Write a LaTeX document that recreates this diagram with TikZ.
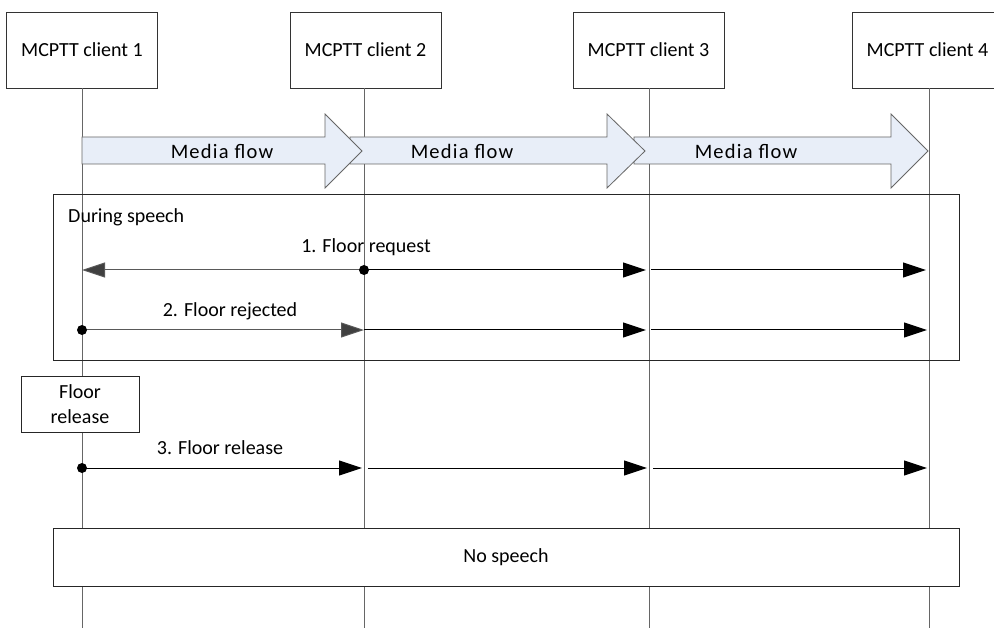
\documentclass[tikz,border=0pt]{standalone}
\usepackage{fontspec}
\setmainfont{Carlito}
\usetikzlibrary{arrows.meta}
\definecolor{flowfill}{HTML}{E8EEF8}
\tikzset{
  client/.style={draw=black!80, line width=0.8pt, fill=white, minimum width=151pt, minimum height=76pt, inner sep=0pt, font=\fontsize{20}{24}\selectfont},
  life/.style={draw=black!60, line width=1pt},
  mflow/.style={draw=black!60, fill=flowfill, line width=0.8pt},
  mflowlbl/.style={font=\fontsize{20.5}{24}\selectfont\addfontfeature{LetterSpace=6}, inner sep=0pt},
  msg/.style={draw=black, line width=1pt, -{Triangle[length=23pt,width=15pt]}},
  msggray/.style={draw=black!65, line width=1pt, -{Triangle[length=23pt,width=15pt,fill=black!75]}},
  dot/.style={circle, fill=black, inner sep=0pt, minimum size=10pt},
  lbl/.style={font=\fontsize{20}{24}\selectfont, inner sep=0pt},
  frame/.style={draw=black!85, line width=0.8pt},
  note/.style={draw=black!85, line width=0.8pt, fill=white, inner sep=0pt, align=center, font=\fontsize{20}{25}\selectfont}
}
\begin{document}
\begin{tikzpicture}[x=1pt,y=-1pt]
\clip (0,0) rectangle (994,628);
\fill[white] (0,0) rectangle (994,628);
% clients
\node[client] (c1) at (82,50) {MCPTT client 1};
\node[client] (c2) at (365.5,50) {MCPTT client 2};
\node[client] (c3) at (648.5,50) {MCPTT client 3};
\node[client] (c4) at (927.5,50) {MCPTT client 4};
\coordinate (b1) at (82,628);
\coordinate (b2) at (364,628);
\coordinate (b3) at (649,628);
\coordinate (b4) at (929,628);
\draw[life] (c1.south -| b1) -- (b1);
\draw[life] (c2.south -| b2) -- (b2);
\draw[life] (c3.south -| b3) -- (b3);
\draw[life] (c4.south -| b4) -- (b4);
% media flow arrows (drawn last-first so earlier ones are on top)
\draw[mflow] (634,137) -- (891,137) -- (891,114) -- (928,151) -- (891,188) -- (891,164) -- (634,164) -- cycle;
\draw[mflow] (350,137) -- (607,137) -- (607,114) -- (645,151) -- (607,188) -- (607,164) -- (350,164) -- cycle;
\draw[mflow] (82,137) -- (325,137) -- (325,114) -- (362,151) -- (325,188) -- (325,164) -- (82,164) -- cycle;
\node[mflowlbl] (mf1) at (222,151) {Media flow};
\node[mflowlbl] (mf2) at (462,151) {Media flow};
\node[mflowlbl] (mf3) at (746,151) {Media flow};
% during speech frame
\draw[frame] (53,194) rectangle (959,360);
\node[lbl, anchor=west] (ds) at (68,217) {During speech};
% message 1
\coordinate (m1a) at (82,270);
\coordinate (m1b) at (364,270);
\coordinate (m1c) at (649,270);
\coordinate (m1d) at (929,270);
\draw[msggray] (m1b) -- (m1a);
\draw[msg, shorten >=3pt] (m1b) -- (m1c);
\draw[msg, shorten >=3pt, shorten <=2pt] (m1c) -- (m1d);
\node[dot] (d1) at (m1b) {};
\node[lbl] (t1) at (366,247) {1. Floor request};
% message 2
\coordinate (m2a) at (82,330);
\coordinate (m2b) at (364,330);
\coordinate (m2c) at (649,330);
\coordinate (m2d) at (929,330);
\draw[msggray] (m2a) -- (m2b);
\draw[msg, shorten >=3pt] (m2b) -- (m2c);
\draw[msg, shorten >=2pt, shorten <=2pt] (m2c) -- (m2d);
\node[dot] (d2) at (m2a) {};
\node[lbl] (t2) at (230,311) {2. Floor rejected};
% floor release note
\node[note, minimum width=118pt, minimum height=56pt] (fr) at (80,404) {Floor\\release};
% message 3
\coordinate (m3a) at (82,468);
\coordinate (m3b) at (364,468);
\coordinate (m3c) at (649,468);
\coordinate (m3d) at (929,468);
\draw[msg, shorten >=2pt] (m3a) -- (m3b);
\draw[msg, shorten >=2pt, shorten <=4pt] (m3b) -- (m3c);
\draw[msg, shorten >=2pt, shorten <=4pt] (m3c) -- (m3d);
\node[dot] (d3) at (m3a) {};
\node[lbl] (t3) at (220,448) {3. Floor release};
% no speech
\node[note, minimum width=906pt, minimum height=58pt] (ns) at (506,557) {No speech};
\end{tikzpicture}
\end{document}
